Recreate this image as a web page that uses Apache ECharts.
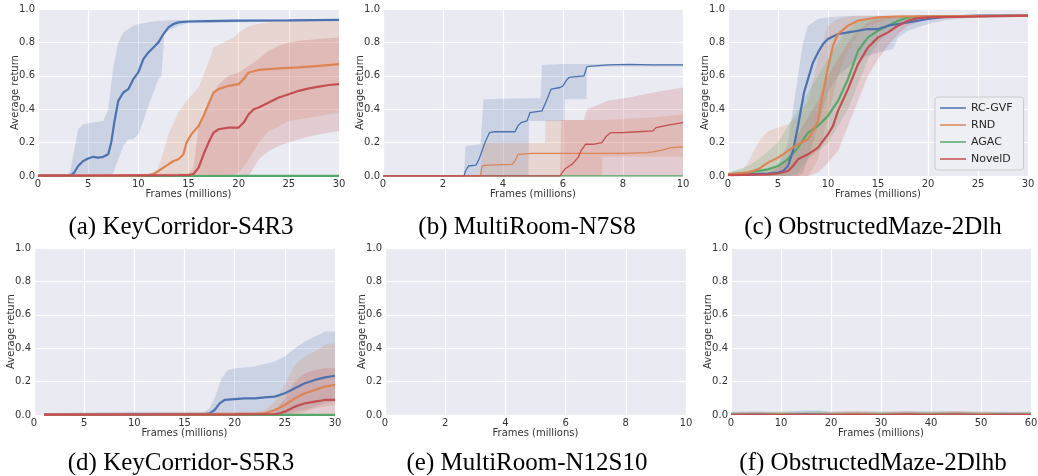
<!DOCTYPE html>
<html><head><meta charset="utf-8">
<script src="https://cdn.jsdelivr.net/npm/echarts@6/dist/echarts.min.js"></script>
<style>html,body{margin:0;padding:0;background:#fff}#c{width:1038px;height:476px}</style>
</head><body><div id="c"></div><script>
// ---------- labels ----------
const methods = ['RC-GVF', 'RND', 'AGAC', 'NovelD'];
const captions = ['(a) KeyCorridor-S4R3', '(b) MultiRoom-N7S8', '(c) ObstructedMaze-2Dlh',
                  '(d) KeyCorridor-S5R3', '(e) MultiRoom-N12S10', '(f) ObstructedMaze-2Dlhb'];
const xMaxes = [30, 10, 30, 30, 10, 60];
const xSteps = [5, 2, 5, 5, 2, 10];
const yTickStep = 0.2;
const xName = 'Frames (millions)';
const yName = 'Average return';

// ---------- (a) KeyCorridor-S4R3 : mean [x,y], band [x,lo,hi] ----------
const a_rc_mean = [[0,0.002],[1,0.003],[2,0.002],[3,0.004],[3.3,0.005],[3.6,0.02],[4.0,0.06],[4.5,0.09],[5.0,0.105],[5.5,0.115],[6.0,0.11],[6.5,0.115],[7.0,0.13],[7.3,0.2],[7.6,0.32],[8.0,0.45],[8.5,0.5],[9.0,0.52],[9.5,0.58],[10,0.62],[10.5,0.7],[11,0.74],[11.5,0.77],[12,0.8],[12.5,0.85],[13,0.89],[13.5,0.91],[14,0.92],[15,0.925],[17,0.927],[20,0.93],[25,0.932],[30,0.935]];
const a_rc_band = [[0,0,0.01],[3,0,0.01],[3.2,0,0.03],[3.5,0,0.12],[4.0,0,0.28],[4.5,0,0.31],[5.5,0,0.32],[6.5,0,0.33],[7.0,0,0.4],[7.3,0,0.55],[7.5,0.02,0.65],[8,0.1,0.8],[8.5,0.18,0.86],[9,0.22,0.88],[9.5,0.22,0.9],[10,0.25,0.91],[10.5,0.33,0.915],[11,0.42,0.92],[11.5,0.5,0.925],[12,0.58,0.93],[12.3,0.6,0.93],[12.6,0.85,0.93],[13,0.87,0.932],[14,0.9,0.935],[15,0.915,0.935],[30,0.93,0.94]];
const a_rnd_mean = [[0,0.002],[5,0.003],[10,0.004],[11,0.006],[11.5,0.012],[12,0.03],[12.5,0.05],[13,0.07],[13.5,0.09],[14,0.1],[14.5,0.13],[14.8,0.2],[15.3,0.25],[16,0.3],[16.5,0.36],[17,0.43],[17.5,0.5],[18,0.52],[19,0.54],[20,0.55],[20.5,0.58],[21,0.62],[22,0.635],[24,0.645],[26,0.65],[28,0.66],[30,0.67]];
const a_rnd_band = [[0,0,0.008],[11,0,0.01],[11.8,0,0.03],[12.3,0,0.1],[13,0,0.25],[14,0,0.38],[14.8,0,0.45],[16,0,0.53],[16.8,0,0.65],[17.5,0,0.77],[18.5,0,0.8],[19.5,0.01,0.83],[20,0.02,0.86],[20.8,0.08,0.89],[21.5,0.15,0.905],[22,0.2,0.91],[23,0.27,0.92],[24,0.3,0.925],[25,0.33,0.928],[27,0.35,0.93],[30,0.38,0.93]];
const a_agac_mean = [[0,0],[15,0],[20,0.001],[25,0.001],[30,0.001]];
const a_agac_band = [[0,0,0.003],[30,0,0.005]];
const a_nov_mean = [[0,0.002],[5,0.003],[10,0.004],[14,0.005],[15,0.006],[15.5,0.012],[16,0.05],[16.5,0.13],[17,0.2],[17.5,0.26],[18,0.28],[19,0.29],[20,0.29],[20.5,0.32],[21,0.37],[21.5,0.4],[22,0.41],[23,0.44],[24,0.47],[25,0.49],[26,0.51],[27,0.525],[28,0.535],[29,0.545],[30,0.55]];
const a_nov_band = [[0,0,0.008],[15,0,0.015],[15.5,0,0.05],[16,0,0.3],[17,0,0.45],[18,0,0.55],[19,0,0.6],[20,0,0.62],[21,0,0.66],[21.5,0.05,0.68],[22,0.1,0.7],[23,0.15,0.75],[24,0.18,0.78],[25,0.2,0.8],[26,0.22,0.81],[28,0.25,0.82],[30,0.27,0.83]];

// ---------- (b) MultiRoom-N7S8 ----------
const b_rc_mean = [[0,0],[2.7,0],[2.75,0.03],[2.85,0.06],[3.1,0.065],[3.2,0.1],[3.4,0.2],[3.55,0.26],[3.7,0.265],[4.4,0.265],[4.5,0.3],[4.6,0.32],[4.8,0.33],[4.9,0.38],[5.3,0.39],[5.45,0.45],[5.6,0.52],[5.9,0.53],[6.0,0.54],[6.1,0.57],[6.2,0.59],[6.7,0.6],[6.8,0.655],[7.5,0.665],[8.2,0.668],[9,0.665],[10,0.665]];
const b_rc_band = [[0,0,0],[2.7,0,0],[2.75,0,0.18],[3.25,0,0.19],[3.35,0,0.46],[4.85,0,0.465],[4.86,0.33,0.465],[5.25,0.33,0.465],[5.3,0.33,0.665],[6.05,0.33,0.67],[6.06,0.46,0.67],[6.78,0.46,0.67],[6.8,0.655,0.67],[10,0.655,0.67]];
const b_rnd_mean = [[0,0],[3.25,0],[3.3,0.06],[3.5,0.065],[4.3,0.07],[4.4,0.09],[4.5,0.13],[5.0,0.135],[6,0.135],[7,0.135],[8,0.136],[8.8,0.14],[9.0,0.145],[9.3,0.155],[9.6,0.17],[10,0.175]];
const b_rnd_band = [[0,0,0],[3.25,0,0],[3.3,0,0.2],[5.4,0,0.2],[5.42,0,0.335],[7.3,0,0.335],[7.32,0.115,0.335],[9,0.115,0.35],[10,0.115,0.37]];
const b_agac_mean = [[0,0],[10,0]];
const b_agac_band = [[0,0,0],[10,0,0]];
const b_nov_mean = [[0,0],[5.9,0],[5.95,0.01],[6.05,0.04],[6.3,0.07],[6.5,0.11],[6.6,0.15],[6.75,0.19],[7.0,0.19],[7.3,0.2],[7.45,0.24],[7.6,0.26],[8.0,0.26],[8.5,0.265],[9.0,0.27],[9.1,0.29],[9.5,0.305],[10,0.32]];
const b_nov_band = [[0,0,0],[5.9,0,0],[5.95,0,0.335],[6.7,0,0.335],[6.8,0,0.4],[7.5,0,0.45],[8.2,0,0.47],[9,0,0.5],[10,0,0.53]];

// ---------- (c) ObstructedMaze-2Dlh ----------
const c_rc_mean = [[0,0.01],[2,0.01],[4,0.015],[5,0.02],[5.5,0.03],[6,0.06],[6.5,0.15],[7,0.3],[7.3,0.4],[7.6,0.5],[8,0.58],[8.5,0.68],[9,0.74],[9.5,0.79],[10,0.82],[11,0.85],[12,0.86],[13,0.87],[14,0.88],[15,0.88],[16,0.9],[17,0.91],[18,0.92],[20,0.94],[22,0.955],[25,0.96],[30,0.96]];
const c_rc_band = [[0,0,0.02],[4,0,0.03],[5,0,0.06],[6,0,0.2],[7,0,0.6],[7.5,0.02,0.8],[8,0.1,0.9],[9,0.3,0.94],[10,0.5,0.95],[11,0.6,0.955],[13,0.7,0.96],[15,0.74,0.96],[16.5,0.76,0.96],[17,0.83,0.96],[18,0.87,0.96],[20,0.91,0.96],[22,0.935,0.962],[25,0.95,0.962],[30,0.955,0.962]];
const c_rnd_mean = [[0,0.01],[2,0.02],[3,0.04],[4,0.08],[5,0.11],[5.5,0.13],[6,0.15],[7,0.19],[8,0.22],[8.5,0.27],[9,0.33],[9.5,0.5],[10,0.65],[10.5,0.78],[11,0.85],[12,0.9],[13,0.93],[14,0.94],[15,0.95],[17,0.955],[30,0.96]];
const c_rnd_band = [[0,0,0.02],[1.5,0,0.04],[2,0,0.08],[3,0,0.2],[4,0,0.27],[5,0,0.29],[6,0,0.31],[7,0,0.36],[8,0,0.45],[9,0.1,0.7],[10,0.35,0.9],[11,0.6,0.94],[12,0.75,0.955],[13,0.85,0.96],[14,0.9,0.96],[16,0.94,0.96],[20,0.955,0.962],[30,0.955,0.962]];
const c_agac_mean = [[0,0.01],[2,0.02],[3,0.03],[4,0.04],[5,0.06],[6,0.1],[7,0.17],[8,0.26],[9,0.3],[10,0.36],[11,0.45],[12,0.58],[13,0.75],[14,0.83],[15,0.87],[16,0.9],[17,0.93],[18,0.95],[20,0.955],[30,0.96]];
const c_agac_band = [[0,0,0.02],[2,0,0.06],[3,0,0.1],[4,0,0.15],[5,0,0.2],[6,0,0.3],[7,0.02,0.4],[8,0.1,0.5],[9,0.15,0.6],[10,0.2,0.7],[11,0.3,0.8],[12,0.4,0.88],[13,0.55,0.92],[14,0.7,0.94],[15,0.8,0.95],[16,0.85,0.955],[17,0.9,0.96],[18,0.93,0.96],[20,0.95,0.962],[30,0.955,0.962]];
const c_nov_mean = [[0,0.005],[4,0.01],[5,0.015],[6,0.03],[6.5,0.06],[7,0.1],[8,0.13],[9,0.17],[10,0.25],[10.5,0.3],[11,0.39],[12,0.52],[13,0.67],[14,0.77],[15,0.83],[16,0.86],[17,0.9],[18,0.93],[19,0.945],[20,0.95],[30,0.96]];
const c_nov_band = [[0,0,0.01],[4,0,0.02],[5,0,0.05],[6,0,0.12],[7,0,0.25],[8,0,0.35],[9,0.02,0.45],[10,0.08,0.6],[11,0.15,0.7],[12,0.3,0.8],[13,0.45,0.87],[14,0.6,0.92],[15,0.7,0.94],[16,0.78,0.95],[17,0.85,0.96],[18,0.9,0.96],[20,0.94,0.962],[22,0.95,0.962],[30,0.955,0.962]];

// ---------- (d) KeyCorridor-S5R3 ----------
const d_rc_mean = [[1,0.002],[5,0.003],[9,0.004],[10,0.005],[15,0.005],[17,0.006],[17.5,0.01],[18,0.03],[18.5,0.07],[19,0.09],[20,0.095],[21,0.1],[22,0.1],[23,0.105],[24,0.11],[25,0.13],[26,0.16],[27,0.19],[28,0.21],[29,0.225],[30,0.235]];
const d_rc_band = [[1,0,0.01],[9,0,0.02],[15,0,0.02],[17,0,0.02],[17.5,0,0.04],[18,0,0.1],[18.7,0,0.22],[19.3,0,0.27],[20,0,0.28],[22,0,0.29],[24,0,0.32],[25,0,0.35],[26,0.02,0.4],[27,0.03,0.44],[28,0.05,0.47],[29,0.07,0.5],[30,0.08,0.5]];
const d_rnd_mean = [[1,0.002],[10,0.003],[15,0.004],[20,0.005],[22,0.006],[23,0.01],[24,0.03],[25,0.06],[26,0.1],[27,0.13],[28,0.15],[29,0.17],[30,0.18]];
const d_rnd_band = [[1,0,0.008],[15,0,0.015],[22,0,0.02],[23,0,0.03],[24,0,0.08],[25,0,0.18],[26,0,0.3],[27,0.02,0.35],[28,0.04,0.38],[29,0.05,0.42],[30,0.06,0.43]];
const d_agac_mean = [[1,0],[30,0.001]];
const d_agac_band = [[1,0,0.004],[30,0,0.005]];
const d_nov_mean = [[1,0.002],[10,0.003],[20,0.004],[24,0.006],[24.5,0.01],[25,0.02],[26,0.05],[27,0.07],[28,0.08],[29,0.09],[30,0.09]];
const d_nov_band = [[1,0,0.008],[20,0,0.015],[24,0,0.02],[25,0,0.1],[26,0,0.2],[27,0,0.25],[28,0,0.27],[29,0,0.28],[30,0,0.28]];

// ---------- (e) MultiRoom-N12S10 : nothing visible ----------

// ---------- (f) ObstructedMaze-2Dlhb ----------
const f_rc_mean = [[0,0.004],[5,0.006],[10,0.003],[15,0.007],[20,0.004],[25,0.005],[30,0.003],[35,0.006],[40,0.004],[45,0.006],[50,0.003],[55,0.005],[60,0.004]];
const f_rc_band = [[0,0,0.018],[5,0,0.022],[10,0,0.015],[15,0,0.028],[20,0,0.018],[25,0,0.02],[30,0,0.016],[35,0,0.024],[40,0,0.02],[45,0,0.022],[50,0,0.017],[55,0,0.02],[60,0,0.018]];
const f_rnd_mean = [[0,0.005],[5,0.004],[10,0.006],[15,0.004],[20,0.005],[25,0.007],[30,0.004],[35,0.006],[40,0.005],[45,0.004],[50,0.006],[55,0.004],[60,0.005]];
const f_rnd_band = [[0,0,0.016],[5,0,0.02],[10,0,0.018],[15,0,0.015],[20,0,0.022],[25,0,0.026],[30,0,0.018],[35,0,0.022],[40,0,0.016],[45,0,0.024],[50,0,0.02],[55,0,0.017],[60,0,0.019]];
const f_agac_mean = [[0,0.006],[5,0.005],[10,0.007],[15,0.005],[20,0.006],[25,0.004],[30,0.006],[35,0.005],[40,0.007],[45,0.005],[50,0.006],[55,0.005],[60,0.006]];
const f_agac_band = [[0,0,0.02],[5,0,0.018],[10,0,0.022],[15,0,0.02],[17.5,0,0.03],[20,0,0.018],[25,0,0.02],[30,0,0.022],[35,0,0.018],[40,0,0.024],[45,0,0.02],[50,0,0.022],[55,0,0.018],[60,0,0.02]];
const f_nov_mean = [[0,0.003],[5,0.004],[10,0.003],[15,0.004],[20,0.003],[25,0.004],[30,0.003],[35,0.005],[40,0.003],[45,0.006],[50,0.003],[55,0.004],[60,0.003]];
const f_nov_band = [[0,0,0.012],[5,0,0.014],[10,0,0.012],[15,0,0.013],[20,0,0.012],[25,0,0.016],[30,0,0.014],[35,0,0.018],[40,0,0.013],[45,0,0.02],[50,0,0.014],[55,0,0.012],[60,0,0.013]];

const panelData = [
  [[a_rc_mean,a_rc_band],[a_rnd_mean,a_rnd_band],[a_agac_mean,a_agac_band],[a_nov_mean,a_nov_band]],
  [[b_rc_mean,b_rc_band],[b_rnd_mean,b_rnd_band],[b_agac_mean,b_agac_band],[b_nov_mean,b_nov_band]],
  [[c_rc_mean,c_rc_band],[c_rnd_mean,c_rnd_band],[c_agac_mean,c_agac_band],[c_nov_mean,c_nov_band]],
  [[d_rc_mean,d_rc_band],[d_rnd_mean,d_rnd_band],[d_agac_mean,d_agac_band],[d_nov_mean,d_nov_band]],
  [],
  [[f_rc_mean,f_rc_band],[f_rnd_mean,f_rnd_band],[f_agac_mean,f_agac_band],[f_nov_mean,f_nov_band]]
];

// ---------- styling / layout ----------
const colors = ['#4C72B0', '#DD8452', '#55A868', '#C44E52'];
const lineZ = [3.2, 3.3, 3.0, 3.4];
const lineWidths = [2.2, 1.3, 2.2, 2.2, 1.2, 1.2];
const gridBoxes = [
  {left: 38, top: 9, width: 301, height: 167},
  {left: 383, top: 9, width: 300, height: 167},
  {left: 728, top: 9, width: 300, height: 167},
  {left: 34, top: 248, width: 301, height: 167},
  {left: 385, top: 248, width: 301, height: 167},
  {left: 731, top: 248, width: 300, height: 167}
];
const captionPos = [[181, 227], [527, 227], [873, 227], [181, 463], [527, 463], [873, 463]];
const FONT = 'DejaVu Sans';

function hexA(hex, a) {
  const n = parseInt(hex.slice(1), 16);
  return 'rgba(' + ((n >> 16) & 255) + ',' + ((n >> 8) & 255) + ',' + (n & 255) + ',' + a + ')';
}

const grid = [], xAxis = [], yAxis = [], series = [], graphic = [];
gridBoxes.forEach((g, i) => {
  grid.push(Object.assign({backgroundColor: '#EAEAF2', show: true, borderWidth: 0, outerBoundsMode: 'none'}, g));
  xAxis.push({
    type: 'value', gridIndex: i, min: 0, max: xMaxes[i], interval: xSteps[i],
    axisLine: {show: false}, axisTick: {show: false},
    axisLabel: {color: '#333', fontFamily: FONT, fontSize: 10, margin: 3, showMaxLabel: true, showMinLabel: true},
    splitLine: {show: true, lineStyle: {color: '#ffffff', width: 1.2}},
    name: xName, nameLocation: 'middle', nameGap: 12,
    nameTextStyle: {color: '#333', fontFamily: FONT, fontSize: 10}
  });
  yAxis.push({
    type: 'value', gridIndex: i, min: 0, max: 1, interval: yTickStep,
    axisLine: {show: false}, axisTick: {show: false},
    axisLabel: {color: '#333', fontFamily: FONT, fontSize: 10, margin: 3, formatter: v => v.toFixed(1)},
    splitLine: {show: true, lineStyle: {color: '#ffffff', width: 1.2}},
    name: yName, nameLocation: 'middle', nameGap: 18, nameRotate: 90, nameMoveOverlap: false,
    nameTextStyle: {color: '#333', fontFamily: FONT, fontSize: 10}
  });
  graphic.push({
    type: 'text', x: captionPos[i][0], y: captionPos[i][1], silent: true,
    style: {text: captions[i], fill: '#000', font: '25px "Liberation Serif"', align: 'center', verticalAlign: 'middle'}
  });
});

panelData.forEach((panel, gi) => {
  panel.forEach((pair, si) => {
    const band = pair[1];
    series.push({
      type: 'custom', xAxisIndex: gi, yAxisIndex: gi, silent: true, z: 1, animation: false,
      data: [[band[0][0], band[0][1]]],
      renderItem: function (params, api) {
        const pts = [];
        for (let k = 0; k < band.length; k++) pts.push(api.coord([band[k][0], band[k][2]]));
        for (let k = band.length - 1; k >= 0; k--) pts.push(api.coord([band[k][0], band[k][1]]));
        return {type: 'polygon', shape: {points: pts}, style: {fill: hexA(colors[si], 0.2)}};
      }
    });
  });
  panel.forEach((pair, si) => {
    series.push({
      type: 'line', name: methods[si], xAxisIndex: gi, yAxisIndex: gi, data: pair[0],
      showSymbol: false, symbol: 'none', animation: false, z: lineZ[si],
      color: colors[si], lineStyle: {color: colors[si], width: lineWidths[gi]}
    });
  });
});

const chart = echarts.init(document.getElementById('c'), null, {renderer: 'canvas'});
chart.setOption({
  animation: false,
  backgroundColor: '#ffffff',
  grid, xAxis, yAxis, series, graphic,
  legend: {
    data: methods.map(m => ({name: m, icon: 'rect'})), orient: 'vertical', left: 935, top: 97,
    padding: [5, 11, 5, 5], itemGap: 5, itemWidth: 26, itemHeight: 1.5,
    backgroundColor: 'rgba(238,238,245,0.9)', borderColor: '#cccccc', borderWidth: 1, borderRadius: 3,
    textStyle: {color: '#262626', fontFamily: FONT, fontSize: 11, lineHeight: 12},
    selectedMode: false
  }
});
</script></body></html>
